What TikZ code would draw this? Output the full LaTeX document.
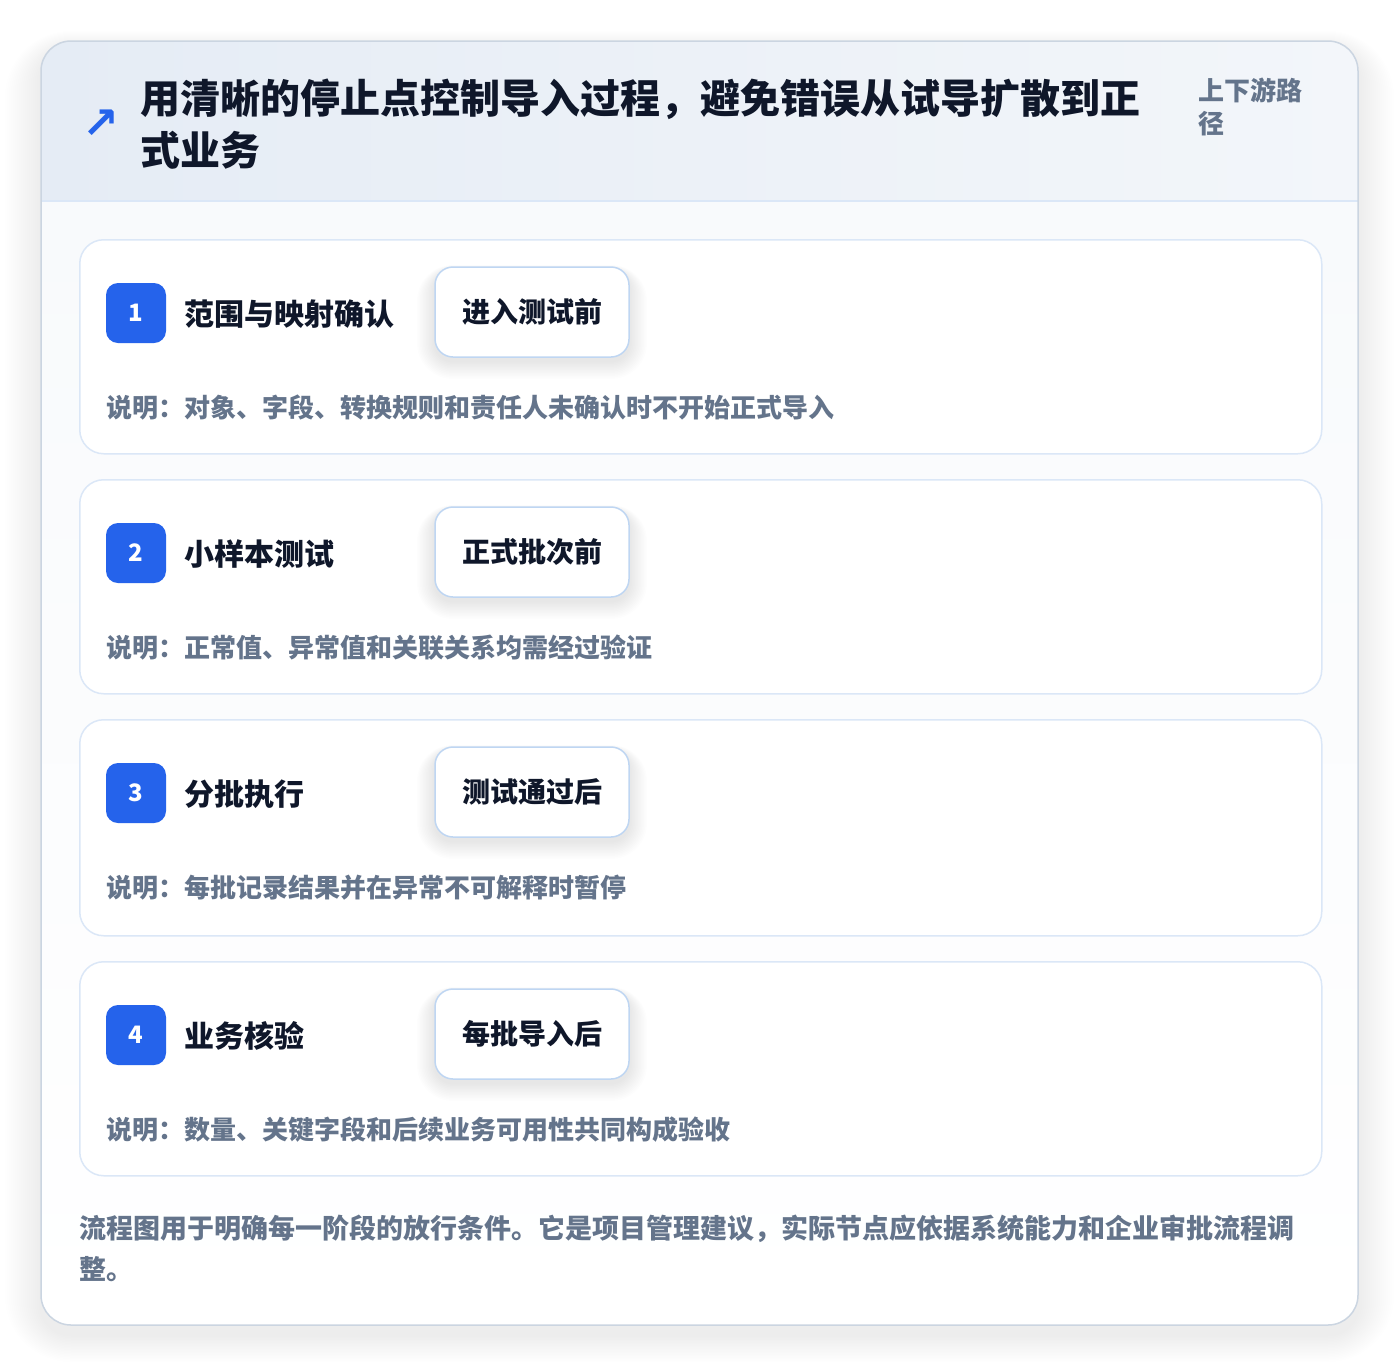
\documentclass[tikz,border=0pt]{standalone}
\usepackage{fontspec}
\setmainfont{Noto Sans CJK SC}
\newfontfamily\symfont{DejaVu Sans}
\definecolor{ink}{HTML}{0F172A}
\definecolor{muted}{HTML}{64748B}
\definecolor{accent}{HTML}{2563EB}
\definecolor{cardline}{HTML}{DBE7F7}
\definecolor{tagline}{HTML}{BFD6F2}
\definecolor{outline}{HTML}{CBD5E1}
\definecolor{hdrL}{HTML}{E5ECF5}
\definecolor{hdrR}{HTML}{F3F6FA}
\definecolor{bodybg}{HTML}{F8FAFC}
\tikzset{
  card/.style={draw=cardline, line width=1.5pt, fill=white, rounded corners=24pt, anchor=north west, minimum width=1242pt, inner sep=0pt},
  badge/.style={fill=accent, rounded corners=12pt, minimum size=60pt, inner sep=0pt, text=white, font=\fontsize{24}{28}\selectfont\bfseries},
  steptitle/.style={anchor=west, inner sep=0pt, text=ink, font=\fontsize{30}{36}\selectfont\bfseries},
  tagbox/.style={draw=tagline, line width=1.5pt, fill=white, rounded corners=18pt, minimum width=194pt, minimum height=90pt, inner sep=0pt, text=ink, font=\fontsize{28}{32}\selectfont\bfseries},
  desc/.style={anchor=west, inner sep=0pt, text=muted, font=\fontsize{26}{30}\selectfont\bfseries},
  softshade/.style={fill=black, opacity=#1},
}
\begin{document}
\begin{tikzpicture}[x=1pt,y=-1pt]
\useasboundingbox (0,0) rectangle (1400,1366);
\fill[white] (0,0) rectangle (1400,1366);
% outer card shadow
\foreach \k in {1,...,18}{
  \fill[softshade=0.005, rounded corners=30pt+2*\k pt] (41-2*\k,41+8-1*\k) rectangle (1358+2*\k,1325+10+1.5*\k);
}
% outer card
\fill[bodybg, rounded corners=30pt] (41,41) rectangle (1358,1325);
\begin{scope}
\clip[rounded corners=30pt] (41,41) rectangle (1358,1325);
\shade[left color=hdrL, right color=hdrR] (41,41) rectangle (1358,201);
\shade[top color=bodybg, bottom color=white] (41,201) rectangle (1358,1325);
\end{scope}
\draw[cardline, line width=1.5pt] (41,201) -- (1358,201);
\draw[outline, line width=1.5pt, rounded corners=30pt] (41,41) rectangle (1358,1325);
% header
\node[text=accent, inner sep=0pt, font=\symfont\fontsize{44}{44}\selectfont\bfseries] (icon) at (101,124) {↗};
\node[anchor=west, inner sep=0pt, align=left, text=ink, font=\fontsize{40}{52}\selectfont\bfseries] (title) at (140,124)
  {用清晰的停止点控制导入过程，避免错误从试导扩散到正\\式业务};
\node[anchor=west, inner sep=0pt, align=left, text=muted, font=\fontsize{26}{33}\selectfont\bfseries] (path) at (1198,106.5)
  {上下游路\\径};
% cards
\foreach \i/\t/\h/\nm/\tg/\ds in {
  1/239/214/范围与映射确认/进入测试前/说明：对象、字段、转换规则和责任人未确认时不开始正式导入,
  2/479/214/小样本测试/正式批次前/说明：正常值、异常值和关联关系均需经过验证,
  3/719/216/分批执行/测试通过后/说明：每批记录结果并在异常不可解释时暂停,
  4/961/214/业务核验/每批导入后/说明：数量、关键字段和后续业务可用性共同构成验收}{
  \node[card, minimum height=\h pt] (card\i) at (79,\t) {};
  \node[badge] (badge\i) at (136,\t+74) {\i};
  \node[steptitle] (name\i) at (184,\t+75) {\nm};
  \foreach \k in {1,...,12}{
    \fill[softshade=0.006, rounded corners=18pt+1.5*\k pt] (435-1.5*\k,\t+28+4-0.5*\k) rectangle (629+1.5*\k,\t+118+4+1.5*\k);
  }
  \node[tagbox] (tag\i) at (532,\t+73) {\tg};
  \node[desc] (desc\i) at (106,\t+169) {\ds};
}
% footer
\node[anchor=west, inner sep=0pt, align=left, text=muted, font=\fontsize{27}{41}\selectfont\bfseries] (foot) at (79,1248)
  {流程图用于明确每一阶段的放行条件。它是项目管理建议，实际节点应依据系统能力和企业审批流程调\\整。};
\end{tikzpicture}
\end{document}
